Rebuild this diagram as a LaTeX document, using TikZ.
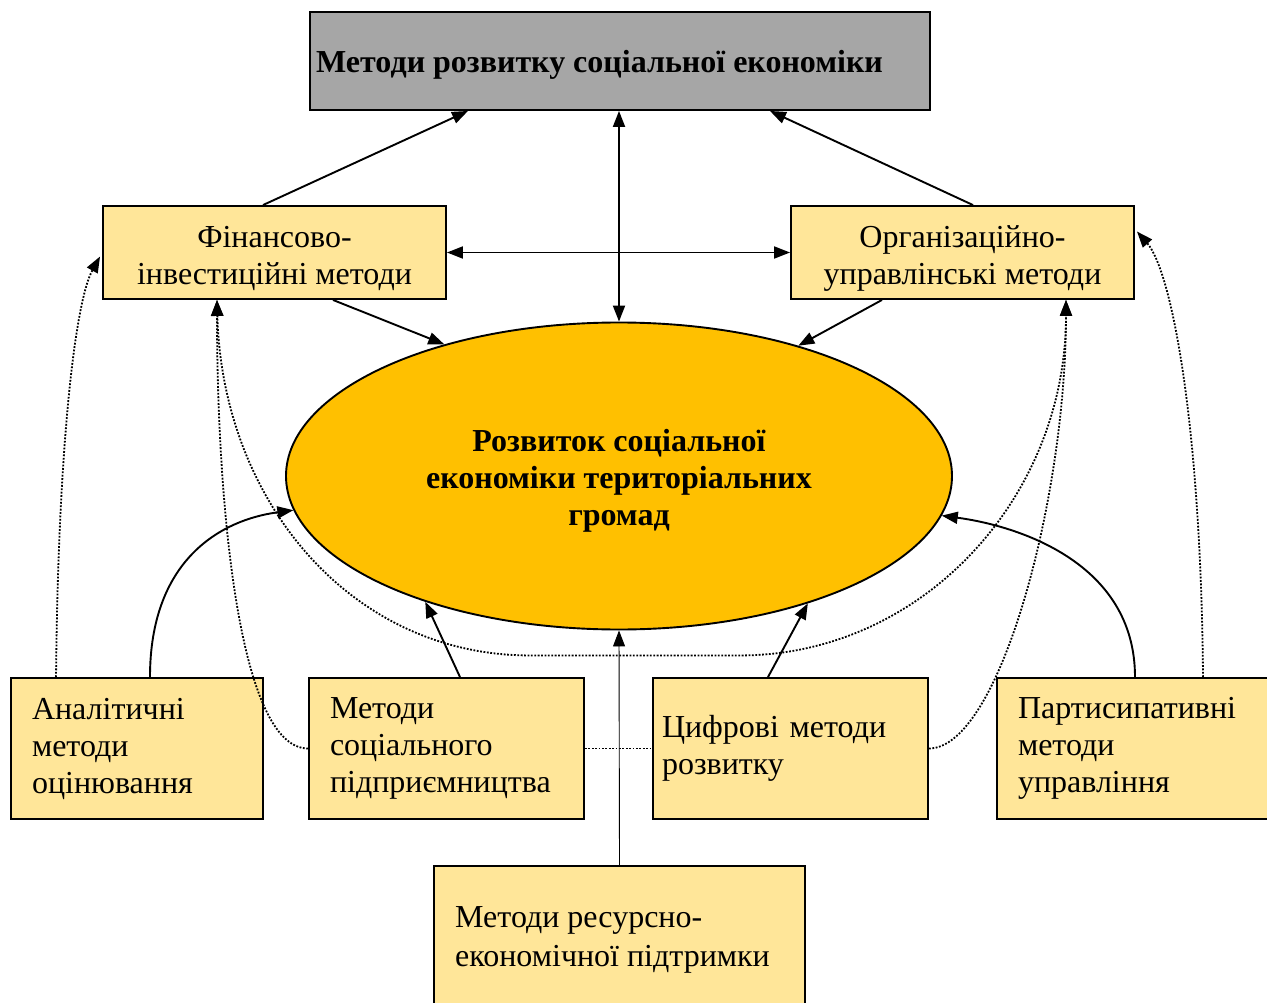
\documentclass[tikz,border=0pt]{standalone}
\usepackage{fontspec}
\setmainfont{Liberation Serif}
\usetikzlibrary{arrows.meta,calc,shapes.geometric}
\definecolor{boxfill}{HTML}{FFE699}
\definecolor{ellfill}{HTML}{FFC000}
\definecolor{topgray}{HTML}{A6A6A6}
\begin{document}
\begin{tikzpicture}[x=1pt,y=-1pt,
  font=\fontsize{32}{37}\selectfont,
  >={Triangle[length=16pt,width=12pt]},
  conn/.style={line width=1.9pt},
  dots/.style={line width=1.8pt, dash pattern=on 1.8pt off 1.6pt},
  yellowbox/.style={draw, line width=1.9pt, fill=boxfill, inner sep=0pt},
  leftbox/.style={yellowbox, align=left, inner xsep=21pt, text width=#1, minimum height=141pt},
  label/.style={inner sep=0pt, align=center},
]
\useasboundingbox (0,0) rectangle (1267,1003);

% header box
\node[draw, line width=1.9pt, fill=topgray, minimum width=620pt, minimum height=98pt, inner sep=0pt] (top) at (620,61) {};
\node[anchor=west, inner sep=0pt, font=\fontsize{32}{37}\selectfont\bfseries] (title) at (316,65) {Методи розвитку соціальної економіки};

% second row
\node[yellowbox, minimum width=343pt, minimum height=93pt] (fin) at (274.5,252.5) {};
\node[label] (fintext) at (274.5,258) {Фінансово-\\інвестиційні методи};
\node[yellowbox, minimum width=343pt, minimum height=93pt] (org) at (962.5,252.5) {};
\node[label] (orgtext) at (962.5,258) {Організаційно-\\управлінські методи};

% central ellipse
\node[ellipse, draw, line width=1.9pt, fill=ellfill, minimum width=666pt, minimum height=307pt, inner sep=0pt] (ell) at (619,476) {};
\node[label, font=\fontsize{32}{37}\selectfont\bfseries] (elltext) at (619,481) {Розвиток соціальної\\економіки територіальних\\громад};

% bottom row
\node[leftbox=210pt] (anal) at (137,748.5) {Аналітичні\\методи\\оцінювання};
\node[leftbox=233pt] (soc) at (446.5,748.5) {Методи\\соціального\\підприємництва};
\node[leftbox=257pt, inner xsep=9pt] (dig) at (790.5,748.5) {Цифрові методи\\розвитку};
\node[leftbox=229pt] (part) at (1132.5,748.5) {Партисипативні\\методи\\управління};
\node[yellowbox, minimum width=371pt, minimum height=144pt] (res) at (619.5,938) {};
\node[anchor=west, inner sep=0pt, align=left, font=\fontsize{32}{39}\selectfont] (restext) at (455,940) {Методи ресурсно-\\економічної підтримки};

% solid links
\draw[conn,->] ($(fin.north)+(-11.5,0)$) -- ($(top.south)+(-152,0)$);
\draw[conn,->] ($(org.north)+(10.5,0)$) -- ($(top.south)+(150,0)$);
\draw[conn,<->] (ell.north) -- (ell.north |- top.south);
\draw[conn,<->] (fin.east) -- (org.west);
\draw[conn,->] ($(fin.south)+(58.5,0)$) -- (ell.143);
\draw[conn,->] ($(org.south)+(-80.5,0)$) -- (ell.36);
\draw[conn,->] ($(anal.north)+(13,0)$) .. controls +(0,-115) and +(-75,10) .. (ell.186);
\draw[conn,->] ($(soc.north)+(13.5,0)$) -- (ell.213);
\draw[conn,->] ($(dig.north)+(-22.5,0)$) -- (ell.326);
\draw[conn,->] ($(part.north)+(2.5,0)$) .. controls +(0,-115) and +(75,10) .. (ell.353);
\draw[line width=0.9pt,->] (res.north) -- (ell.south);

% dotted links
\coordinate (bl) at ($(ell.south)+(-89,25)$);
\coordinate (br) at ($(ell.south)+(121,25)$);
\draw[dots,->] ($(anal.north west)+(46,0)$) .. controls +(2,-230) and +(-25,45) .. ($(fin.west)+(-2,4)$);
\draw[dots,->] ($(part.north)+(70.5,0)$) .. controls +(-2,-250) and +(35,40) .. ($(org.east)+(2,-21)$);
\draw[dots,->] (soc.west) .. controls +(-70,0) and +(0,200) .. ($(fin.south)+(-57.5,0)$);
\draw[dots,<->] ($(fin.south)+(-57.5,0)$) .. controls +(5,200) and +(-180,0) .. (bl) -- (br) .. controls +(180,0) and +(0,200) .. ($(org.south)+(103.5,0)$);
\draw[dots,->] (dig.east) .. controls +(70,0) and +(0,200) .. ($(org.south)+(103.5,0)$);
\draw[dots] (soc.east) -- (dig.west);
\end{tikzpicture}
\end{document}
